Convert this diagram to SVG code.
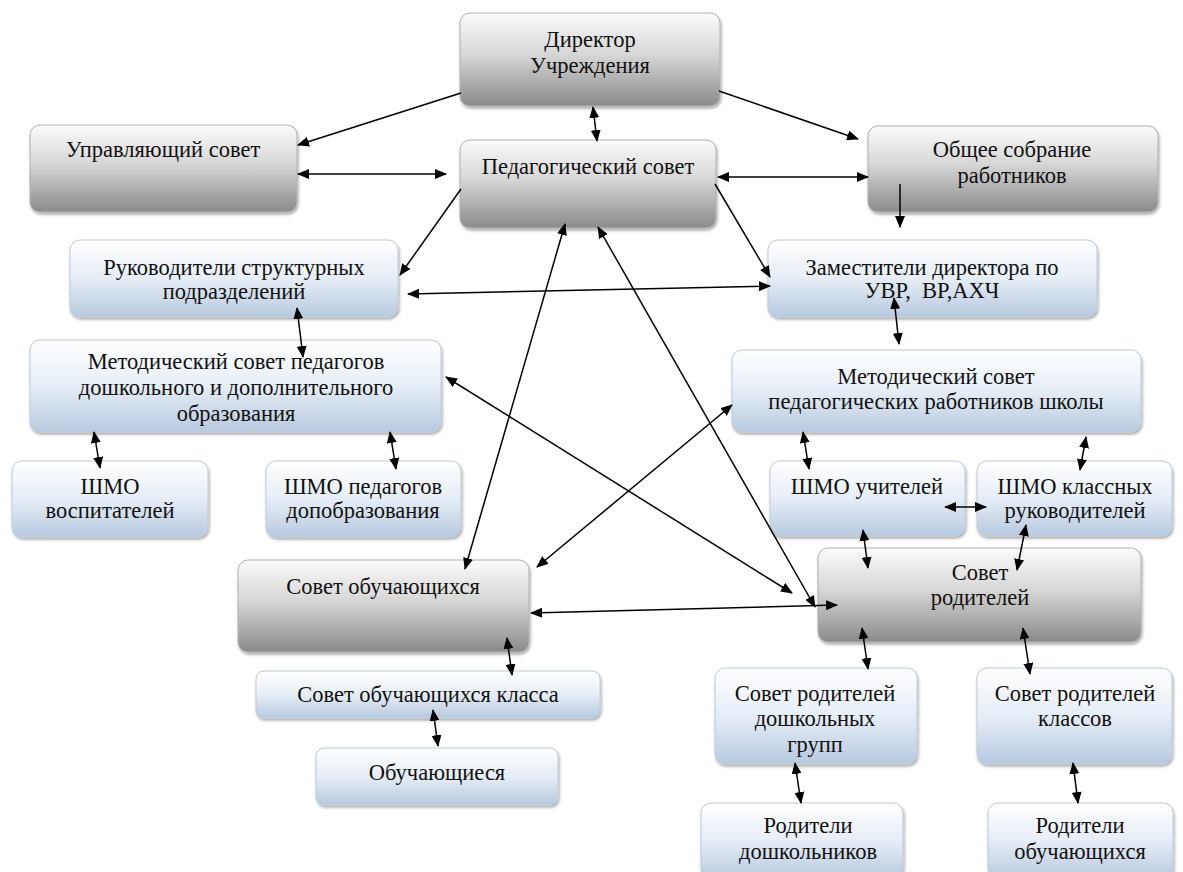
<svg xmlns="http://www.w3.org/2000/svg" width="1183" height="872" viewBox="0 0 1183 872">
<defs>
<linearGradient id="gGrey" x1="0" y1="0" x2="0" y2="1">
<stop offset="0" stop-color="#fbfbfb"/><stop offset="0.45" stop-color="#d6d6d6"/><stop offset="1" stop-color="#8a8a8a"/>
</linearGradient>
<linearGradient id="gBlue" x1="0" y1="0" x2="0" y2="1">
<stop offset="0" stop-color="#ffffff"/><stop offset="0.5" stop-color="#e6edf6"/><stop offset="1" stop-color="#b7c9e0"/>
</linearGradient>
<filter id="sh" x="-10%" y="-10%" width="120%" height="130%">
<feDropShadow dx="1" dy="2" stdDeviation="1.5" flood-color="#000" flood-opacity="0.35"/>
</filter>
<marker id="ah" viewBox="0 0 12 10" refX="11" refY="5" markerWidth="12" markerHeight="10" markerUnits="userSpaceOnUse" orient="auto-start-reverse">
<path d="M0,0 L12,5 L0,10 Z" fill="#000"/>
</marker>
<style>
.grey{fill:url(#gGrey);stroke:#b0b0b0;stroke-width:1;filter:url(#sh)}
.blue{fill:url(#gBlue);stroke:#c0cad6;stroke-width:1;filter:url(#sh)}
.t{font-size:22.5px;fill:#111;text-anchor:middle}
.c line{stroke:#000;stroke-width:1.5}
.one{marker-end:url(#ah)}
.two{marker-start:url(#ah);marker-end:url(#ah)}
</style>
</defs>
<rect width="1183" height="872" fill="#fff"/>

<g class="t" font-family="Liberation Serif, Times New Roman, DejaVu Serif, serif">
<g id="director"><rect class="grey" x="460" y="13" width="260" height="93" rx="10"/><text x="590" y="47">Директор</text><text x="590" y="73">Учреждения</text></g>
<g id="upr-sovet"><rect class="grey" x="30" y="125" width="267" height="87" rx="10"/><text x="163" y="157">Управляющий совет</text></g>
<g id="ped-sovet"><rect class="grey" x="460" y="140" width="256" height="88" rx="10"/><text x="588" y="174">Педагогический совет</text></g>
<g id="obshee"><rect class="grey" x="868" y="126" width="290" height="86" rx="10"/><text x="1012" y="157">Общее собрание</text><text x="1012" y="183">работников</text></g>
<g id="rukovod"><rect class="blue" x="70" y="240" width="328" height="77" rx="10"/><text x="234" y="275">Руководители структурных</text><text x="234" y="299">подразделений</text></g>
<g id="zam"><rect class="blue" x="768" y="240" width="329" height="77" rx="10"/><text x="932" y="275">Заместители директора по</text><text x="932" y="298" xml:space="preserve">УВР,  ВР,АХЧ</text></g>
<g id="metod-do"><rect class="blue" x="30" y="340" width="411" height="92" rx="10"/><text x="236" y="369">Методический совет педагогов</text><text x="236" y="395">дошкольного и дополнительного</text><text x="236" y="421">образования</text></g>
<g id="metod-shk"><rect class="blue" x="732" y="350" width="409" height="82" rx="10"/><text x="936" y="384">Методический совет</text><text x="936" y="409">педагогических работников школы</text></g>
<g id="shmo-vosp"><rect class="blue" x="12" y="461" width="196" height="76" rx="10"/><text x="110" y="494">ШМО</text><text x="110" y="518">воспитателей</text></g>
<g id="shmo-dop"><rect class="blue" x="266" y="461" width="195" height="76" rx="10"/><text x="363" y="494">ШМО педагогов</text><text x="363" y="518">допобразования</text></g>
<g id="shmo-uch"><rect class="blue" x="770" y="461" width="195" height="75" rx="10"/><text x="867" y="494">ШМО учителей</text></g>
<g id="shmo-kl"><rect class="blue" x="977" y="461" width="195" height="75" rx="10"/><text x="1075" y="494">ШМО классных</text><text x="1075" y="518">руководителей</text></g>
<g id="sovet-obuch"><rect class="grey" x="238" y="560" width="291" height="92" rx="10"/><text x="383" y="594">Совет обучающихся</text></g>
<g id="sovet-rod"><rect class="grey" x="818" y="548" width="323" height="94" rx="10"/><text x="980" y="580">Совет</text><text x="980" y="605">родителей</text></g>
<g id="sovet-obuch-kl"><rect class="blue" x="256" y="671" width="344" height="47" rx="8"/><text x="428" y="702">Совет обучающихся класса</text></g>
<g id="obuch"><rect class="blue" x="316" y="748" width="242" height="57" rx="8"/><text x="437" y="780">Обучающиеся</text></g>
<g id="sovet-rod-dosh"><rect class="blue" x="715" y="668" width="202" height="96" rx="10"/><text x="815" y="701">Совет родителей</text><text x="815" y="726">дошкольных</text><text x="815" y="752">групп</text></g>
<g id="sovet-rod-kl"><rect class="blue" x="977" y="668" width="195" height="96" rx="10"/><text x="1075" y="701">Совет родителей</text><text x="1075" y="726">классов</text></g>
<g id="rod-dosh"><rect class="blue" x="701" y="803" width="202" height="75" rx="10"/><text x="808" y="833">Родители</text><text x="808" y="859">дошкольников</text></g>
<g id="rod-obuch"><rect class="blue" x="988" y="803" width="185" height="75" rx="10"/><text x="1080" y="833">Родители</text><text x="1080" y="859">обучающихся</text></g>
</g>

<g id="connectors" class="c">
<line class="one" x1="461" y1="93" x2="298" y2="145"/>
<line class="two" x1="593" y1="107" x2="597" y2="141"/>
<line class="one" x1="719" y1="91" x2="858" y2="139"/>
<line class="two" x1="298" y1="174" x2="446" y2="174"/>
<line class="two" x1="718" y1="177" x2="868" y2="177"/>
<line class="one" x1="900" y1="184" x2="900" y2="227"/>
<line class="one" x1="461" y1="189" x2="400" y2="275"/>
<line class="one" x1="715" y1="184" x2="770" y2="277"/>
<line class="two" x1="408" y1="294" x2="770" y2="286"/>
<line class="two" x1="297" y1="308" x2="303" y2="357"/>
<line class="two" x1="894" y1="298" x2="899" y2="344"/>
<line class="two" x1="94" y1="432" x2="100" y2="468"/>
<line class="two" x1="390" y1="432" x2="396" y2="469"/>
<line class="two" x1="803" y1="432" x2="809" y2="469"/>
<line class="two" x1="1086" y1="437" x2="1080" y2="470"/>
<line class="two" x1="945" y1="507" x2="986" y2="507"/>
<line class="two" x1="863" y1="530" x2="868" y2="568"/>
<line class="two" x1="1026" y1="525" x2="1017" y2="570"/>
<line class="two" x1="565" y1="224" x2="465" y2="569"/>
<line class="two" x1="598" y1="227" x2="815" y2="607"/>
<line class="two" x1="446" y1="377" x2="792" y2="593"/>
<line class="two" x1="732" y1="405" x2="537" y2="567"/>
<line class="two" x1="531" y1="613" x2="837" y2="605"/>
<line class="two" x1="507" y1="638" x2="512" y2="675"/>
<line class="two" x1="433" y1="710" x2="438" y2="746"/>
<line class="two" x1="862" y1="628" x2="868" y2="669"/>
<line class="two" x1="1023" y1="628" x2="1030" y2="674"/>
<line class="two" x1="795" y1="763" x2="801" y2="803"/>
<line class="two" x1="1073" y1="763" x2="1078" y2="803"/>
</g>
</svg>
